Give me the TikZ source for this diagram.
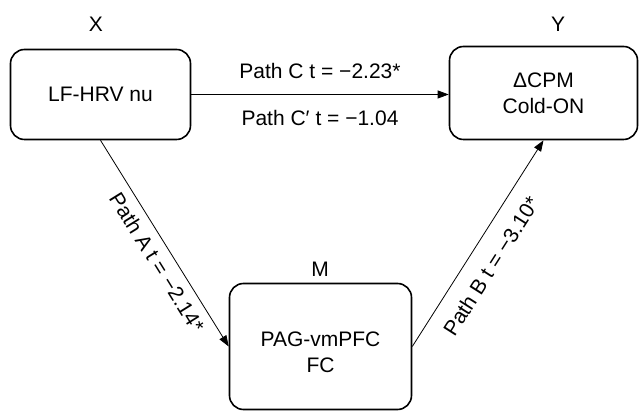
\documentclass[tikz,border=0pt]{standalone}
\usepackage{fontspec}
\setmainfont{Liberation Sans}
\usetikzlibrary{arrows.meta}
\begin{document}
\begin{tikzpicture}[x=1pt,y=1pt,
  every node/.style={font=\fontsize{21}{26}\selectfont},
  box/.style={draw, line width=1.6pt, rounded corners=14pt, align=center, inner sep=0pt},
  conn/.style={line width=0.8pt, -{Triangle[length=11pt,width=8pt]}}]
\useasboundingbox (0,0) rectangle (640,412);
\node[box, minimum width=180pt, minimum height=90pt] (X) at (100.5,317.5) {LF-HRV nu};
\node[box, minimum width=188pt, minimum height=93pt] (Y) at (543.5,319) {ΔCPM\\Cold-ON};
\node[box, minimum width=182pt, minimum height=126pt,
  label={[align=center, yshift=-6pt]center:PAG-vmPFC\\FC}] (M) at (320.5,65.5) {};
\node (xl) at (96,388) {X};
\node (yl) at (558,388) {Y};
\node (ml) at (320,143) {M};
\draw[conn] (X.east) -- (X.east -| Y.west)
  node[midway, above=12pt] {Path C t = −2.23*}
  node[midway, below=12pt] {Path C′ t = −1.04};
\draw[conn] (X.south) -- (M.west)
  node[pos=0.55, sloped, below=5pt] {Path A t = −2.14*};
\draw[conn] (M.east) -- (Y.south)
  node[pos=0.45, sloped, below=12pt] {Path B t = −3.10*};
\end{tikzpicture}
\end{document}
